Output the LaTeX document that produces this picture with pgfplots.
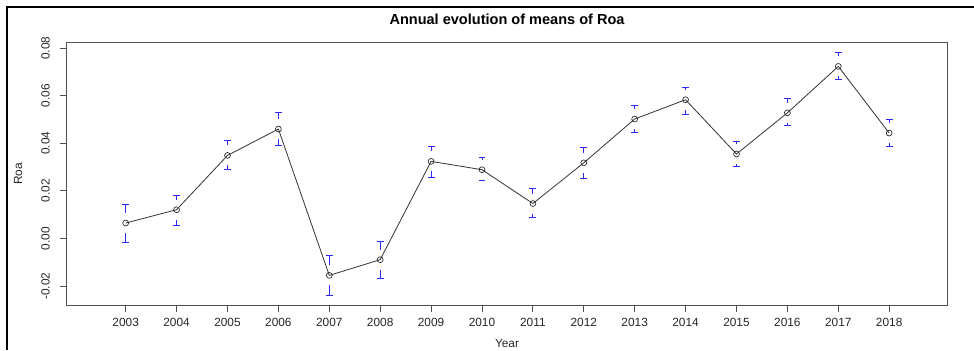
\documentclass[border=0pt]{standalone}
\usepackage{pgfplots}
\pgfplotsset{compat=1.18}
\usepackage{pgfplotstable}
\usepackage{fontspec}
\setmainfont{Liberation Sans}
\definecolor{errblue}{RGB}{40,40,255}
\definecolor{axgray}{RGB}{80,80,80}
\pgfplotstableread{
year m hi lo
2003 0.0065 0.0145 -0.0015
2004 0.0121 0.0181 0.0056
2005 0.0349 0.0412 0.0289
2006 0.0460 0.0531 0.0391
2007 -0.0155 -0.0070 -0.0237
2008 -0.0089 -0.0011 -0.0166
2009 0.0324 0.0387 0.0258
2010 0.0289 0.0340 0.0242
2011 0.0147 0.0209 0.0088
2012 0.0318 0.0382 0.0254
2013 0.0502 0.0559 0.0444
2014 0.0583 0.0634 0.0523
2015 0.0355 0.0410 0.0301
2016 0.0528 0.0587 0.0476
2017 0.0723 0.0782 0.0667
2018 0.0443 0.0499 0.0387
}\roadata
\begin{document}
\begin{tikzpicture}
\begin{axis}[
  at={(50.25pt,33.75pt)}, anchor=south west,
  scale only axis, width=660pt, height=196.5pt,
  xmin=2001.847, xmax=2019.136, ymin=-0.02794, ymax=0.08214,
  xtick={2003,2004,2005,2006,2007,2008,2009,2010,2011,2012,2013,2014,2015,2016,2017,2018},
  xticklabels={2003,2004,2005,2006,2007,2008,2009,2010,2011,2012,2013,2014,2015,2016,2017,2018},
  ytick={-0.02,0,0.02,0.04,0.06,0.08},
  yticklabels={-0.02,0.00,0.02,0.04,0.06,0.08},
  scaled y ticks=false,
  tick pos=left, tick align=outside, major tick length=5.25pt,
  tick style={axgray, line width=0.6pt},
  axis line style={axgray, line width=0.75pt},
  ticklabel style={font=\fontsize{8.9pt}{10pt}\selectfont, text=black!85},
  yticklabel style={rotate=90, anchor=south, inner sep=0pt},
  xticklabel style={anchor=north, inner sep=0pt},
  yticklabel shift=7.5pt,
  xticklabel shift=4.8pt,
  ylabel={Roa}, xlabel={Year},
  ylabel style={at={(axis description cs:-0.0557,0.5)}, anchor=center, rotate=0, font=\fontsize{8.9pt}{10pt}\selectfont, text=black!85},
  xlabel style={at={(axis description cs:0.5,-0.145)}, anchor=center, font=\fontsize{8.9pt}{10pt}\selectfont, text=black!85},
  every axis title shift=0pt,
  title={\bfseries Annual evolution of means of Roa},
  title style={at={(axis description cs:0.5,1.0916)}, anchor=center, font=\fontsize{10.9pt}{12pt}\selectfont},
  clip=false,
]
\addplot[draw=none, mark=none,
  error bars/.cd, y dir=plus, y explicit, error mark=-,
  error bar style={draw=errblue, line width=0.6pt},
  error mark options={draw=errblue, mark size=2.6pt, line width=0.6pt, rotate=90}]
  table[x=year, y expr=\thisrow{m}+0.0042, y error expr=\thisrow{hi}-\thisrow{m}-0.0042] {\roadata};
\addplot[draw=none, mark=none,
  error bars/.cd, y dir=minus, y explicit, error mark=-,
  error bar style={draw=errblue, line width=0.6pt},
  error mark options={draw=errblue, mark size=2.6pt, line width=0.6pt, rotate=90}]
  table[x=year, y expr=\thisrow{m}-0.0042, y error expr=\thisrow{m}-\thisrow{lo}-0.0042] {\roadata};
\addplot[black!80, line width=0.6pt, mark=o, mark size=2.2pt, mark options={black!85, line width=0.5pt}]
  table[x=year, y=m] {\roadata};
\end{axis}
\draw[black, line width=1.5pt] (5.6pt,0pt) -- (5.6pt,257.5pt) -- (730.5pt,257.5pt);
\pgfresetboundingbox
\useasboundingbox (0,0) rectangle (730.5pt,262.5pt);
\end{tikzpicture}
\end{document}
